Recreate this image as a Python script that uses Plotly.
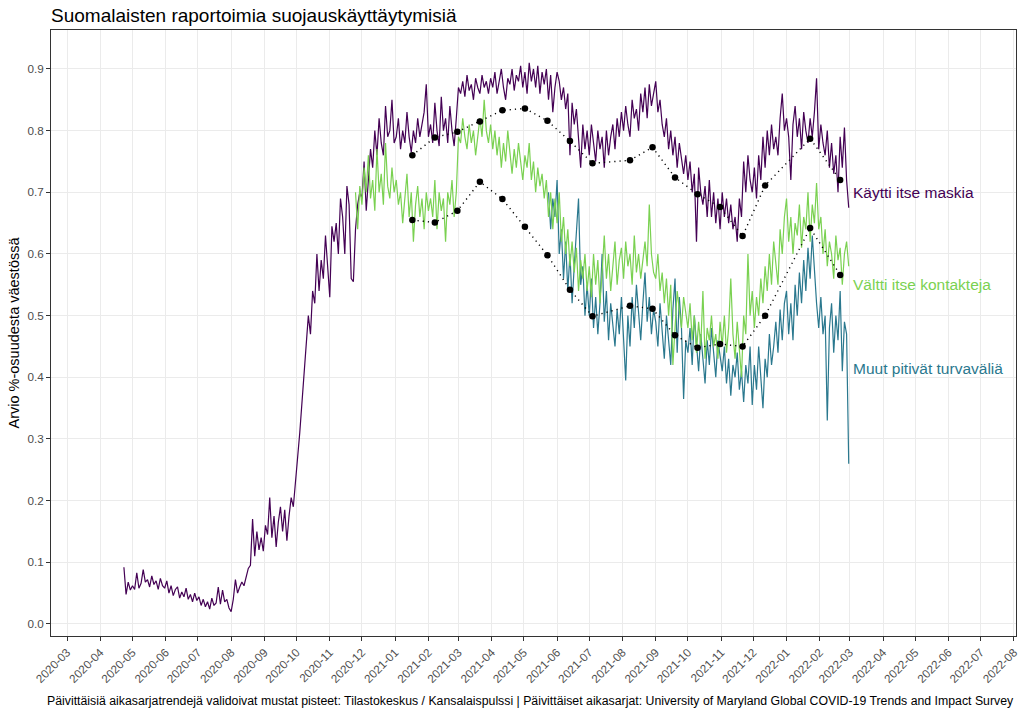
import pandas as pd
import plotly.graph_objects as go

# ---------------- data ----------------
mask_start = "2020-04-23"
mask_vals = [
    0.092, 0.048, 0.068, 0.055,
    0.062, 0.056, 0.083, 0.058, 0.066, 0.088, 0.068, 0.072, 0.060, 0.078, 0.064, 0.070, 0.056, 0.074, 0.062, 0.058,
    0.070, 0.050, 0.062, 0.046, 0.056, 0.060, 0.042, 0.052, 0.044, 0.058, 0.040, 0.048, 0.036, 0.050, 0.038,
    0.044, 0.030, 0.040, 0.028, 0.036, 0.024, 0.042, 0.030, 0.034, 0.060, 0.032, 0.055, 0.036, 0.040, 0.026, 0.020,
    0.040, 0.072, 0.050, 0.060, 0.068, 0.062, 0.075, 0.090, 0.095, 0.170, 0.110, 0.150, 0.120, 0.140, 0.118, 0.160,
    0.145, 0.205, 0.140, 0.175, 0.125, 0.165, 0.190, 0.150, 0.185, 0.135, 0.175, 0.205, 0.190, 0.225,
    0.270, 0.310, 0.360, 0.410, 0.460, 0.500, 0.470, 0.540, 0.520, 0.600, 0.540, 0.590, 0.560, 0.630, 0.580,
    0.530, 0.645, 0.620, 0.650, 0.600, 0.690, 0.660, 0.600, 0.710, 0.680, 0.560, 0.555, 0.640, 0.680, 0.700,
    0.690, 0.750, 0.670, 0.720, 0.770, 0.740, 0.800, 0.760, 0.820, 0.780, 0.760, 0.840, 0.790, 0.800, 0.850, 0.780,
    0.790, 0.820, 0.770, 0.800, 0.780, 0.830, 0.790, 0.765, 0.800, 0.780, 0.820, 0.790, 0.810, 0.830, 0.875, 0.790,
    0.810, 0.780, 0.845, 0.800, 0.775, 0.855, 0.800, 0.820, 0.780, 0.840, 0.800, 0.775, 0.820, 0.870,
    0.860, 0.880, 0.855, 0.890, 0.865, 0.875, 0.850, 0.885, 0.870, 0.860, 0.890, 0.870, 0.880, 0.860, 0.885,
    0.870, 0.895, 0.860, 0.880, 0.900, 0.870, 0.850, 0.885, 0.875, 0.900, 0.865, 0.890, 0.880, 0.905, 0.870,
    0.895, 0.860, 0.910, 0.880, 0.900, 0.870, 0.905, 0.860, 0.895, 0.875, 0.900, 0.850, 0.890, 0.830, 0.870,
    0.895, 0.880, 0.850, 0.870, 0.835, 0.860, 0.760, 0.845, 0.810, 0.835, 0.780, 0.740, 0.810, 0.770, 0.800,
    0.760, 0.810, 0.780, 0.750, 0.800, 0.770, 0.790, 0.740, 0.800, 0.760, 0.790, 0.810, 0.770, 0.820, 0.790, 0.830,
    0.800, 0.840, 0.810, 0.790, 0.850, 0.820, 0.835, 0.800, 0.860, 0.830, 0.870, 0.820, 0.875, 0.840, 0.860,
    0.880, 0.830, 0.850, 0.810, 0.790, 0.820, 0.770, 0.800, 0.760, 0.790, 0.740, 0.780, 0.750, 0.730, 0.760,
    0.720, 0.750, 0.700, 0.730, 0.620, 0.740, 0.700, 0.680, 0.710, 0.660, 0.720, 0.660, 0.700, 0.650, 0.690, 0.640,
    0.700, 0.660, 0.690, 0.650, 0.680, 0.640, 0.660, 0.620, 0.690, 0.660, 0.750, 0.700, 0.760, 0.720, 0.700,
    0.740, 0.690, 0.760, 0.720, 0.790, 0.740, 0.800, 0.760, 0.810, 0.770, 0.790, 0.760, 0.820, 0.860, 0.800,
    0.820, 0.790, 0.720, 0.810, 0.840, 0.790, 0.820, 0.770, 0.830, 0.800, 0.780, 0.820, 0.790, 0.830, 0.885, 0.770,
    0.810, 0.780, 0.760, 0.800, 0.740, 0.780, 0.730, 0.760, 0.700, 0.790, 0.740, 0.805, 0.720, 0.675,
]

contact_start = "2020-11-25"
contact_vals = [
    0.700, 0.640, 0.710,
    0.680, 0.740, 0.700, 0.760, 0.690, 0.720, 0.670, 0.770, 0.700, 0.730, 0.680, 0.780, 0.710, 0.690, 0.740, 0.700,
    0.720, 0.680, 0.700, 0.650, 0.690, 0.730, 0.660, 0.700, 0.620, 0.680, 0.710, 0.660, 0.690, 0.640, 0.700, 0.670,
    0.690, 0.660, 0.720, 0.640, 0.700, 0.670, 0.690, 0.620, 0.700, 0.680, 0.720, 0.660, 0.700, 0.790,
    0.780, 0.820, 0.790, 0.770, 0.810, 0.780, 0.800, 0.760, 0.790, 0.820, 0.790, 0.850, 0.800, 0.780, 0.810,
    0.770, 0.800, 0.760, 0.790, 0.740, 0.780, 0.750, 0.800, 0.760, 0.730, 0.770, 0.740, 0.780, 0.750, 0.720,
    0.760, 0.740, 0.780, 0.720, 0.750, 0.700, 0.740, 0.710, 0.730, 0.690, 0.720, 0.660, 0.700, 0.640, 0.690,
    0.650, 0.700, 0.620, 0.660, 0.600, 0.640, 0.580, 0.620, 0.570, 0.610, 0.540, 0.590, 0.560, 0.600, 0.540,
    0.580, 0.530, 0.600, 0.550, 0.590, 0.520, 0.570, 0.630, 0.560, 0.600, 0.540, 0.580, 0.620, 0.550, 0.590, 0.610,
    0.560, 0.620, 0.580, 0.600, 0.550, 0.630, 0.570, 0.600, 0.560, 0.590, 0.620, 0.580, 0.680, 0.600, 0.570,
    0.560, 0.600, 0.540, 0.570, 0.520, 0.560, 0.500, 0.550, 0.420, 0.490, 0.540, 0.510, 0.480, 0.530, 0.500,
    0.480, 0.520, 0.460, 0.500, 0.440, 0.490, 0.450, 0.540, 0.430, 0.480, 0.460, 0.500, 0.450, 0.470, 0.430, 0.490,
    0.450, 0.500, 0.440, 0.480, 0.560, 0.470, 0.430, 0.490, 0.450, 0.400, 0.500, 0.470, 0.600, 0.500, 0.540,
    0.480, 0.530, 0.500, 0.560, 0.520, 0.580, 0.540, 0.600, 0.550, 0.620, 0.580, 0.550, 0.640, 0.600, 0.660,
    0.690, 0.620, 0.660, 0.600, 0.650, 0.630, 0.680, 0.610, 0.660, 0.640, 0.700, 0.620, 0.680, 0.650, 0.715, 0.640,
    0.660, 0.600, 0.640, 0.580, 0.620, 0.600, 0.560, 0.630, 0.590, 0.610, 0.550, 0.600, 0.620, 0.580,
]

distance_start = "2021-05-24"
distance_vals = [
    0.700, 0.640, 0.690, 0.660,
    0.720, 0.600, 0.640, 0.560, 0.620, 0.540, 0.600, 0.520, 0.580, 0.640, 0.690, 0.550, 0.580, 0.500, 0.550,
    0.500, 0.560, 0.480, 0.530, 0.470, 0.520, 0.600, 0.490, 0.540, 0.460, 0.520, 0.480, 0.450, 0.510, 0.470, 0.530,
    0.470, 0.395, 0.500, 0.450, 0.530, 0.480, 0.550, 0.500, 0.460, 0.520, 0.570, 0.490, 0.530, 0.470, 0.510,
    0.490, 0.450, 0.520, 0.470, 0.430, 0.500, 0.460, 0.420, 0.510, 0.560, 0.440, 0.530, 0.480, 0.365, 0.460,
    0.440, 0.480, 0.420, 0.500, 0.450, 0.410, 0.470, 0.430, 0.390, 0.460, 0.420, 0.480, 0.440, 0.400, 0.460, 0.430,
    0.410, 0.450, 0.390, 0.430, 0.370, 0.420, 0.400, 0.440, 0.380, 0.410, 0.360, 0.420, 0.390, 0.450, 0.355,
    0.420, 0.380, 0.450, 0.400, 0.350, 0.430, 0.400, 0.470, 0.420, 0.450, 0.490, 0.440, 0.510, 0.460, 0.520,
    0.540, 0.470, 0.520, 0.460, 0.550, 0.500, 0.570, 0.520, 0.590, 0.540, 0.610, 0.560, 0.630, 0.570, 0.520, 0.480,
    0.530, 0.470, 0.500, 0.330, 0.480, 0.520, 0.440, 0.500, 0.460, 0.540, 0.410, 0.490, 0.470, 0.260,
]

val_dates = ["2021-01-17", "2021-02-07", "2021-02-28", "2021-03-21", "2021-04-11", "2021-05-02",
             "2021-05-23", "2021-06-13", "2021-07-04", "2021-08-08", "2021-08-29", "2021-09-19",
             "2021-10-10", "2021-10-31", "2021-11-21", "2021-12-12", "2022-01-23", "2022-02-20"]
mask_check = [0.760, 0.789, 0.798, 0.815, 0.833, 0.836, 0.816, 0.783, 0.747, 0.752, 0.773, 0.724,
              0.697, 0.676, 0.629, 0.711, 0.787, 0.720]
contact_check = [0.655, 0.651, 0.670, 0.717, 0.689, 0.644, 0.598, 0.542, 0.499, 0.516, 0.511, 0.468,
                 0.448, 0.454, 0.450, 0.500, 0.642, 0.566]

series_names = ["Käytti itse maskia", "Muut pitivät turvaväliä", "Vältti itse kontakteja"]
tick_months = pd.date_range("2020-03-01", "2022-08-01", freq="MS")
y_ticks = [0.0, 0.1, 0.2, 0.3, 0.4, 0.5, 0.6, 0.7, 0.8, 0.9]

# ---------------- styling ----------------
colors = {"Käytti itse maskia": "#440154",
          "Muut pitivät turvaväliä": "#2A788E",
          "Vältti itse kontakteja": "#7AD151"}
label_y = {"Käytti itse maskia": 0.699,
           "Vältti itse kontakteja": 0.551,
           "Muut pitivät turvaväliä": 0.415}
FONT = "Liberation Sans, Arial, sans-serif"

starts = {"Käytti itse maskia": mask_start,
          "Muut pitivät turvaväliä": distance_start,
          "Vältti itse kontakteja": contact_start}
values = {"Käytti itse maskia": mask_vals,
          "Muut pitivät turvaväliä": distance_vals,
          "Vältti itse kontakteja": contact_vals}

fig = go.Figure()
for name in series_names:
    d = pd.date_range(starts[name], periods=len(values[name]), freq="2D")
    fig.add_trace(go.Scatter(x=d, y=values[name], mode="lines", name=name,
                             line=dict(color=colors[name], width=1.2), showlegend=False))

vd = pd.to_datetime(val_dates)
for chk in (mask_check, contact_check):
    fig.add_trace(go.Scatter(x=vd, y=chk, mode="lines", showlegend=False,
                             line=dict(color="black", width=1.4, dash="1.2px,4px")))
    fig.add_trace(go.Scatter(x=vd, y=chk, mode="markers", showlegend=False,
                             marker=dict(color="black", size=6.5)))

for name in series_names:
    fig.add_annotation(x="2022-03-02", y=label_y[name], xref="x", yref="y", text=name,
                       showarrow=False, xanchor="left", yanchor="middle",
                       font=dict(family=FONT, size=15.5, color=colors[name]))

fig.add_annotation(x=1.0, y=-0.107, xref="paper", yref="paper",
                   text="Päivittäisiä aikasarjatrendejä validoivat mustat pisteet: Tilastokeskus / Kansalaispulssi | Päivittäiset aikasarjat: University of Maryland Global COVID-19 Trends and Impact Survey",
                   showarrow=False, xanchor="right", yanchor="middle",
                   font=dict(family=FONT, size=12.3, color="black"))

fig.update_layout(
    width=1024, height=716,
    margin=dict(l=51, r=8, t=30, b=80),
    paper_bgcolor="white", plot_bgcolor="white",
    font=dict(family=FONT),
    title=dict(text="Suomalaisten raportoimia suojauskäyttäytymisiä",
               x=51 / 1024, xanchor="left", xref="container",
               y=1 - 15 / 716, yanchor="middle", yref="container",
               font=dict(family=FONT, size=19, color="black")),
    xaxis=dict(range=["2020-02-15", "2022-08-03"], tickvals=tick_months,
               ticktext=[t.strftime("%Y-%m") for t in tick_months], tickangle=-45,
               tickfont=dict(size=11.7, color="#4D4D4D", family=FONT),
               showgrid=True, gridcolor="#EBEBEB", gridwidth=1, automargin=False,
               ticks="outside", ticklen=4, tickcolor="#333333",
               showline=True, linecolor="#333333", linewidth=1, mirror=True, zeroline=False),
    yaxis=dict(range=[-0.0195, 0.9632], tickvals=y_ticks,
               ticktext=[f"{v:.1f}" for v in y_ticks],
               tickfont=dict(size=11.7, color="#4D4D4D", family=FONT),
               title=dict(text="Arvio %-osuudesta väestössä", font=dict(size=14.5, color="black", family=FONT),
                          standoff=4),
               showgrid=True, gridcolor="#EBEBEB", gridwidth=1, automargin=False,
               ticks="outside", ticklen=4, tickcolor="#333333",
               showline=True, linecolor="#333333", linewidth=1, mirror=True, zeroline=False),
)

fig.write_html("out.html", config={"displayModeBar": False},
               post_script="document.body.style.margin='0';document.body.style.overflow='hidden';")
